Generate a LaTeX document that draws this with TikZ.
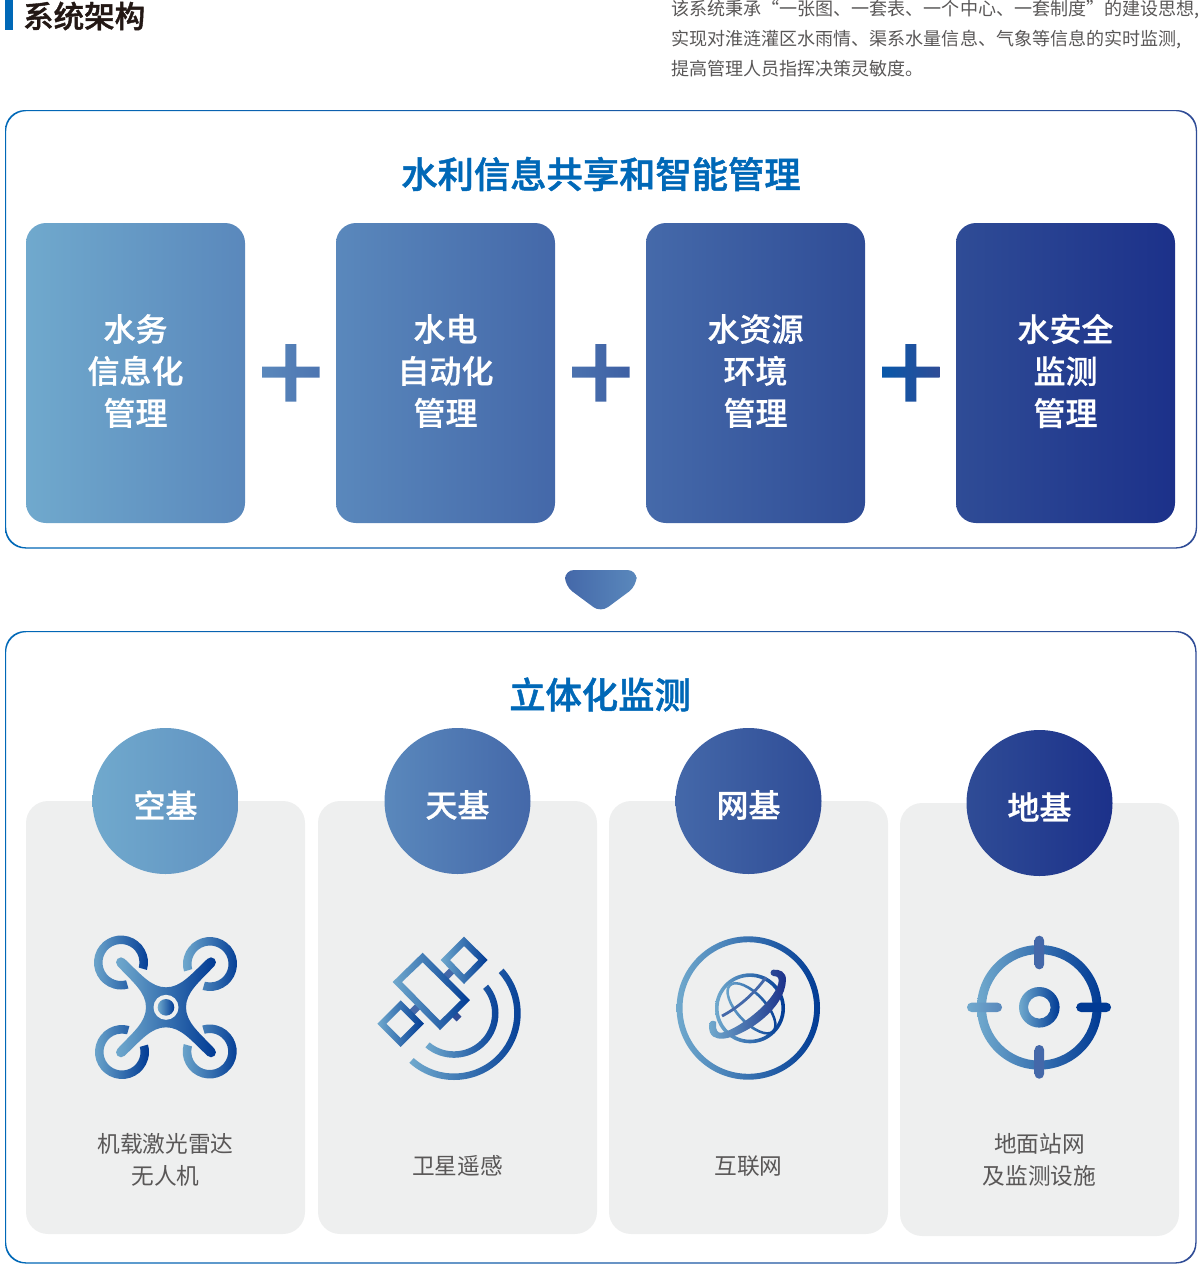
\documentclass[tikz,border=0pt]{standalone}
\usepackage{fontspec}
\setmainfont{Noto Sans CJK SC}
\newfontfamily\cjkmedium[FakeBold=0.7]{Noto Sans CJK SC Medium}
\newfontfamily\cjkstrong[FakeBold=1.3]{Noto Sans CJK SC Medium}
\usetikzlibrary{positioning, calc}

\definecolor{stepa}{HTML}{70A9CD}
\definecolor{stepb}{HTML}{5A88BC}
\definecolor{stepc}{HTML}{4468A9}
\definecolor{stepd}{HTML}{2F4C96}
\definecolor{stepe}{HTML}{1C318A}
\definecolor{icondark}{HTML}{003A94}
\definecolor{titleblue}{HTML}{0068B7}
\definecolor{panelgray}{HTML}{EEEFEF}
\definecolor{textgray}{HTML}{595757}
\definecolor{headblack}{HTML}{231815}

% one piece of a ring: centre x, centre y, outer r, inner r, from, to
\newcommand{\ringarc}[6]{\shade[iconfill] (#1,#2) ++(#5:#3) arc[start angle=#5, end angle=#6, radius=#3] -- ($(#1,#2)+(#6:#4)$) arc[start angle=#6, end angle=#5, radius=#4] -- cycle;}

\begin{document}
\begin{tikzpicture}[
        x=1pt, y=1pt,
        iconfill/.style={left color=stepa, right color=icondark, even odd rule},
        frame/.style={left color=titleblue, right color=stepd, even odd rule, rounded corners=20pt},
        card/.style={rectangle, rounded corners=20pt, minimum width=219pt, minimum height=300pt, inner sep=0pt},
        cardtext/.style={inner sep=0pt, text=white, align=center, font=\fontsize{32}{42}\selectfont\cjkmedium},
        badge/.style={circle, minimum size=146pt, inner sep=0pt},
        badgetext/.style={inner sep=0pt, text=white, font=\fontsize{32}{38}\selectfont\cjkmedium},
        panel/.style={rectangle, fill=panelgray, rounded corners=22pt, minimum width=279pt, minimum height=433pt, inner sep=0pt},
        caption/.style={inner sep=0pt, text=textgray, align=center, font=\fontsize{22.7}{32}\selectfont},
        heading/.style={inner sep=0pt, text=titleblue, font=\fontsize{36.3}{40}\selectfont\cjkstrong},
        intro/.style={inner sep=0pt, anchor=west, text=textgray, font=\fontsize{18.05}{20}\selectfont},
    ]
    \useasboundingbox (0,0) rectangle (1200,-1288);

    % Header
    \fill[titleblue] (5,0) rectangle (13,-30);
    \node[inner sep=0pt, anchor=west, text=headblack, font=\fontsize{30.5}{34}\selectfont\cjkstrong] (head) at (23,-16) {系统架构};
    \node[intro] (intro-1) at (671,-9.5) {该系统秉承“一张图、一套表、一个中心、一套制度”的建设思想,};
    \node[intro] (intro-2) at (671,-39.5) {实现对淮涟灌区水雨情、渠系水量信息、气象等信息的实时监测,};
    \node[intro] (intro-3) at (671,-69) {提高管理人员指挥决策灵敏度。};

    % Draw the two outer frames
    \shade[frame] (5,-110) rectangle (1197,-548.5) (6.2,-111.2) rectangle (1195.8,-547.3);
    \shade[frame] (5,-631) rectangle (1196.5,-1263.5) (6.2,-632.2) rectangle (1195.3,-1262.3);

    \node[heading] (top-title) at (601,-174) {水利信息共享和智能管理};
    \node[heading] (low-title) at (600,-694.5) {立体化监测};

    % Draw the upper cards
    \foreach \name / \x / \from / \to / \words in {
            1/135.5/stepa/stepb/{水务\\信息化\\管理},
            2/445.5/stepb/stepc/{水电\\自动化\\管理},
            3/755.5/stepc!95!stepb/stepd/{水资源\\环境\\管理},
            4/1065.5/stepd/stepe/{水安全\\监测\\管理}}{
        \node[card, left color=\from, right color=\to] (card-\name) at (\x,-373) {};
        \node[cardtext] (cardtext-\name) at (\x,-371) {\words};
    }

    % Draw the plus signs
    \foreach \name / \x / \from / \to in {
            1/290.8/stepb/stepc!60!stepb,
            2/600.8/stepc!70!stepb/stepc!70!stepd,
            3/910.8/titleblue!70!stepe/stepd}
        \shade[left color=\from, right color=\to] (\x-28.8,-366.5) -- (\x-5.5,-366.5) -- (\x-5.5,-344) -- (\x+5.5,-344) -- (\x+5.5,-366.5) -- (\x+28.8,-366.5) -- (\x+28.8,-377.5) -- (\x+5.5,-377.5) -- (\x+5.5,-401.5) -- (\x-5.5,-401.5) -- (\x-5.5,-377.5) -- (\x-28.8,-377.5) -- cycle;

    % Arrow between the frames
    \shade[left color=stepc, right color=stepb, rounded corners=9pt] (565,-570) -- (636.5,-570) -- (636.5,-586) -- (600.7,-612.5) -- (565,-586) -- cycle;

    % Draw the lower panels, their badges and captions
    \foreach \name / \x / \y / \capy / \from / \to / \words / \lines in {
            1/165.5/1017.5/1160/stepa/stepb!70!stepa/空基/{机载激光雷达\\无人机},
            2/457.5/1017.5/1166/stepb/stepc/天基/{卫星遥感},
            3/748.5/1017.5/1166/stepc/stepd/网基/{互联网},
            4/1039.5/1019.5/1160/stepd/stepe/地基/{地面站网\\及监测设施}}{
        \node[panel] (panel-\name) at (\x,-\y) {};
        \node[badge, left color=\from, right color=\to] (badge-\name) at (\x,-\y+216.5) {};
        \node[badgetext] (badgetext-\name) at (\x,-\y+212.5) {\words};
        \node[caption] (caption-\name) at (\x,-\capy) {\lines};
    }

    % Drone: four rotors, the body and its hub
    \ringarc{121}{-962.5}{27}{18.5}{-16}{286}
    \ringarc{210}{-964}{27}{18.5}{-106}{196}
    \ringarc{122}{-1052}{27}{18.5}{74}{376}
    \ringarc{209.7}{-1051.5}{27}{18.5}{164}{466}
    \begin{scope}[shift={(166,-1007.3)}]
        \shade[left color=stepa, right color=icondark] (-41.5,48.5) .. controls (-25,33) and (-15,20) .. (0,20)
            .. controls (15,20) and (25,33) .. (41.5,48.5) arc[start angle=135, end angle=-45, radius=4.95]
            .. controls (33,25) and (20,15) .. (20,0) .. controls (20,-15) and (33,-25) .. (48.5,-41.5)
            arc[start angle=45, end angle=-135, radius=4.95]
            .. controls (25,-33) and (15,-20) .. (0,-20) .. controls (-15,-20) and (-25,-33) .. (-41.5,-48.5)
            arc[start angle=-45, end angle=-225, radius=4.95]
            .. controls (-33,-25) and (-20,-15) .. (-20,0) .. controls (-20,15) and (-33,25) .. (-48.5,41.5)
            arc[start angle=225, end angle=45, radius=4.95] -- cycle;
        \fill[panelgray] (0,0) circle[radius=12.5];
        \shade[left color=stepa, right color=icondark] (0,0) circle[radius=8.3];
    \end{scope}

    % Satellite, written in the pixels of a 3x crop
    \begin{scope}[shift={(60,-920)}, x=0.33333pt, y=-0.33333pt]
        \draw[stepc, line width=7pt] (1150,178) -- (1177,151);
        \draw[stepc, line width=7pt] (1050,283) -- (1076,257);
        \draw[stepd, line width=7pt] (1175,275) -- (1197,297);
        \shade[iconfill] (1088,98) -- (1230,240) -- (1140,330) -- (998,186) -- cycle (1088,127) -- (1203,240) -- (1140,302) -- (1026,186) -- cycle;
        \shade[iconfill] (1212,50) -- (1283,120) -- (1212,192) -- (1142,120) -- cycle (1212,78) -- (1255,120) -- (1212,164) -- (1170,120) -- cycle;
        \shade[iconfill] (1022,241) -- (1092,311) -- (1022,381) -- (952,311) -- cycle (1022,268) -- (1065,311) -- (1022,354) -- (979,311) -- cycle;
    \end{scope}
    \ringarc{454}{-1013.3}{66.7}{60.2}{42}{-132}
    \ringarc{454}{-1013.3}{44.5}{38}{40}{-130}

    % Globe
    \shade[iconfill] (748.3,-1008) circle[radius=71.7] (748.3,-1008) circle[radius=65.8];
    \shade[iconfill] (750,-1008.3) circle[radius=35] (750,-1008.3) circle[radius=31.4];
    \shade[iconfill, rotate around={-47:(751.5,-1008.3)}] (751.5,-1008.3) ellipse[x radius=33, y radius=15.5] (751.5,-1008.3) ellipse[x radius=30.3, y radius=12.8];
    \begin{scope}[shift={(660,-920)}, x=0.33333pt, y=-0.33333pt]
        \draw[stepc, line width=2.8pt] (186,288) .. controls (230,265) and (280,225) .. (318,172);
        \shade[left color=stepa, right color=stepe] (168,305) .. controls (155,298) and (147,305) .. (147,318)
            .. controls (147,350) and (165,357) .. (190,356) .. controls (250,350) and (375,270) .. (378,180)
            .. controls (378,155) and (360,148) .. (340,149) .. controls (330,150) and (328,165) .. (340,168)
            .. controls (355,168) and (358,175) .. (355,190) .. controls (340,250) and (230,330) .. (185,338)
            .. controls (172,340) and (168,330) .. (168,315) -- cycle;
    \end{scope}

    % Target sight
    \ringarc{1039.3}{-1007.3}{62.3}{53.3}{0}{360}
    \ringarc{1039.3}{-1007.3}{20.3}{11.3}{0}{360}
    \foreach \xa / \ya / \xb / \yb / \from / \to in {
            1034.6/-935.7/1044/-969.3/stepc/stepc,
            1034.6/-1045/1044/-1078.7/stepc/stepc,
            967/-1002.6/1002/-1012/stepa/stepb,
            1076.3/-1002.6/1111/-1012/icondark/icondark}
        \shade[left color=\from, right color=\to, rounded corners=4.6pt] (\xa,\ya) rectangle (\xb,\yb);
\end{tikzpicture}
\end{document}
